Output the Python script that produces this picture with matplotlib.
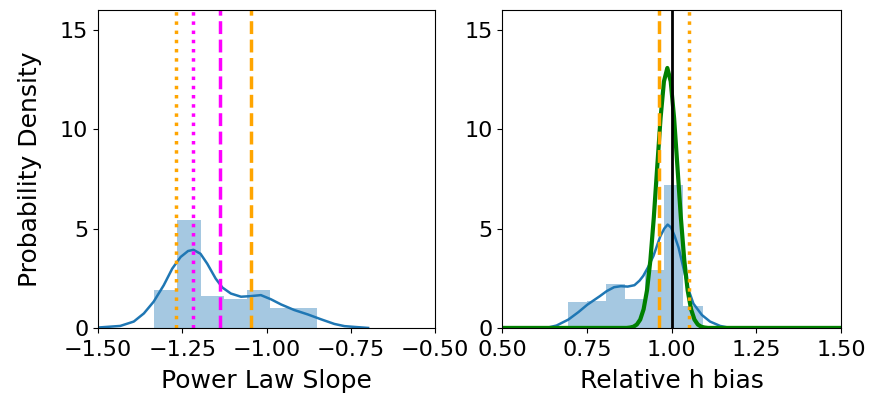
import numpy as np
import matplotlib
matplotlib.use('Agg')
import matplotlib.pyplot as plt

# --- dados ---
# painel 1: inclinação da lei de potência
slope_edges = [-1.335, -1.266, -1.196, -1.127, -1.058, -0.989, -0.919, -0.850]
slope_hist = [1.93, 5.45, 1.63, 1.48, 1.93, 1.02, 1.02]
slope_kde_x = [-1.500, -1.434, -1.394, -1.364, -1.335, -1.305, -1.280, -1.255,
               -1.233, -1.217, -1.196, -1.176, -1.151, -1.131, -1.106, -1.076,
               -1.047, -1.017, -0.987, -0.957, -0.918, -0.878, -0.838, -0.799,
               -0.769, -0.739, -0.699]
slope_kde_y = [0.02, 0.10, 0.32, 0.73, 1.32, 2.15, 2.98, 3.57,
               3.87, 3.93, 3.73, 3.23, 2.48, 2.03, 1.73, 1.57,
               1.60, 1.65, 1.44, 1.18, 0.90, 0.68, 0.43, 0.20,
               0.09, 0.05, 0.0]
slope_dotted_orange = -1.270
slope_dotted_magenta = -1.218
slope_dashed_magenta = -1.139
slope_dashed_orange = -1.047

# painel 2: viés relativo de h
bias_edges = [0.693, 0.750, 0.807, 0.863, 0.920, 0.977, 1.034, 1.091]
bias_hist = [1.30, 1.35, 2.20, 1.45, 2.92, 7.20, 1.12]
bias_kde_x = [0.630, 0.660, 0.695, 0.725, 0.751, 0.788, 0.808, 0.830, 0.850,
              0.870, 0.890, 0.905, 0.916, 0.930, 0.946, 0.966, 0.978, 0.988,
              0.998, 1.008, 1.020, 1.034, 1.049, 1.064, 1.089, 1.113, 1.143,
              1.172]
bias_kde_y = [0.0, 0.12, 0.42, 0.80, 1.17, 1.60, 1.85, 2.05, 2.10,
              2.08, 2.15, 2.38, 2.62, 3.05, 3.62, 4.60, 5.00, 5.20,
              5.05, 4.65, 4.05, 3.05, 1.95, 1.22, 0.65, 0.32, 0.10,
              0.0]
bias_fit_x = [0.500, 0.867, 0.877, 0.887, 0.897, 0.907, 0.917, 0.927, 0.937,
              0.947, 0.957, 0.967, 0.977, 0.987, 0.997, 1.007, 1.017, 1.027,
              1.037, 1.047, 1.057, 1.067, 1.077, 1.087, 1.097, 1.107, 1.500]
bias_fit_y = [0.0, 0.0, 0.02, 0.06, 0.17, 0.42, 0.94, 1.89, 3.41,
              5.53, 8.06, 10.55, 12.40, 13.08, 12.40, 10.55, 8.06, 5.53,
              3.41, 1.89, 0.94, 0.42, 0.17, 0.06, 0.02, 0.0, 0.0]
bias_dashed_orange = 0.961
bias_truth = 1.0
bias_dotted_orange = 1.051

hist_color = '#1f77b4'

fig = plt.figure(figsize=(8.69, 3.97), dpi=100)
ax1 = fig.add_axes([0.1128, 0.174, 0.388, 0.801])
ax2 = fig.add_axes([0.578, 0.174, 0.390, 0.801])

# painel 1
ax1.bar(slope_edges[:-1], slope_hist, width=np.diff(slope_edges), align='edge',
        color=hist_color, alpha=0.4, linewidth=0)
ax1.plot(slope_kde_x, slope_kde_y, color=hist_color, linewidth=1.8)
ax1.axvline(slope_dotted_orange, color='orange', linestyle=':', linewidth=2.5)
ax1.axvline(slope_dotted_magenta, color='magenta', linestyle=':', linewidth=2.5)
ax1.axvline(slope_dashed_magenta, color='magenta', linestyle='--', linewidth=2.5)
ax1.axvline(slope_dashed_orange, color='orange', linestyle='--', linewidth=2.5)
ax1.set_xlim(-1.5, -0.5)
ax1.set_ylim(0, 16)
ax1.set_xticks([-1.5, -1.25, -1.0, -0.75, -0.5])
ax1.set_yticks([0, 5, 10, 15])
ax1.set_xlabel('Power Law Slope', fontsize=18, labelpad=7)
ax1.set_ylabel('Probability Density', fontsize=18, labelpad=13)

# painel 2
ax2.bar(bias_edges[:-1], bias_hist, width=np.diff(bias_edges), align='edge',
        color=hist_color, alpha=0.4, linewidth=0)
ax2.plot(bias_kde_x, bias_kde_y, color=hist_color, linewidth=1.8)
ax2.plot(bias_fit_x, bias_fit_y, color='green', linewidth=3)
ax2.axvline(bias_dashed_orange, color='orange', linestyle='--', linewidth=2.5)
ax2.axvline(bias_truth, color='black', linewidth=2)
ax2.axvline(bias_dotted_orange, color='orange', linestyle=':', linewidth=2.5)
ax2.set_xlim(0.5, 1.5)
ax2.set_ylim(0, 16)
ax2.set_xticks([0.5, 0.75, 1.0, 1.25, 1.5])
ax2.set_yticks([0, 5, 10, 15])
ax2.set_xlabel('Relative h bias', fontsize=18, labelpad=7)

for ax in (ax1, ax2):
    ax.tick_params(labelsize=16)
    ax.tick_params(axis='x', pad=5)

fig.savefig('out.png', dpi=100)
